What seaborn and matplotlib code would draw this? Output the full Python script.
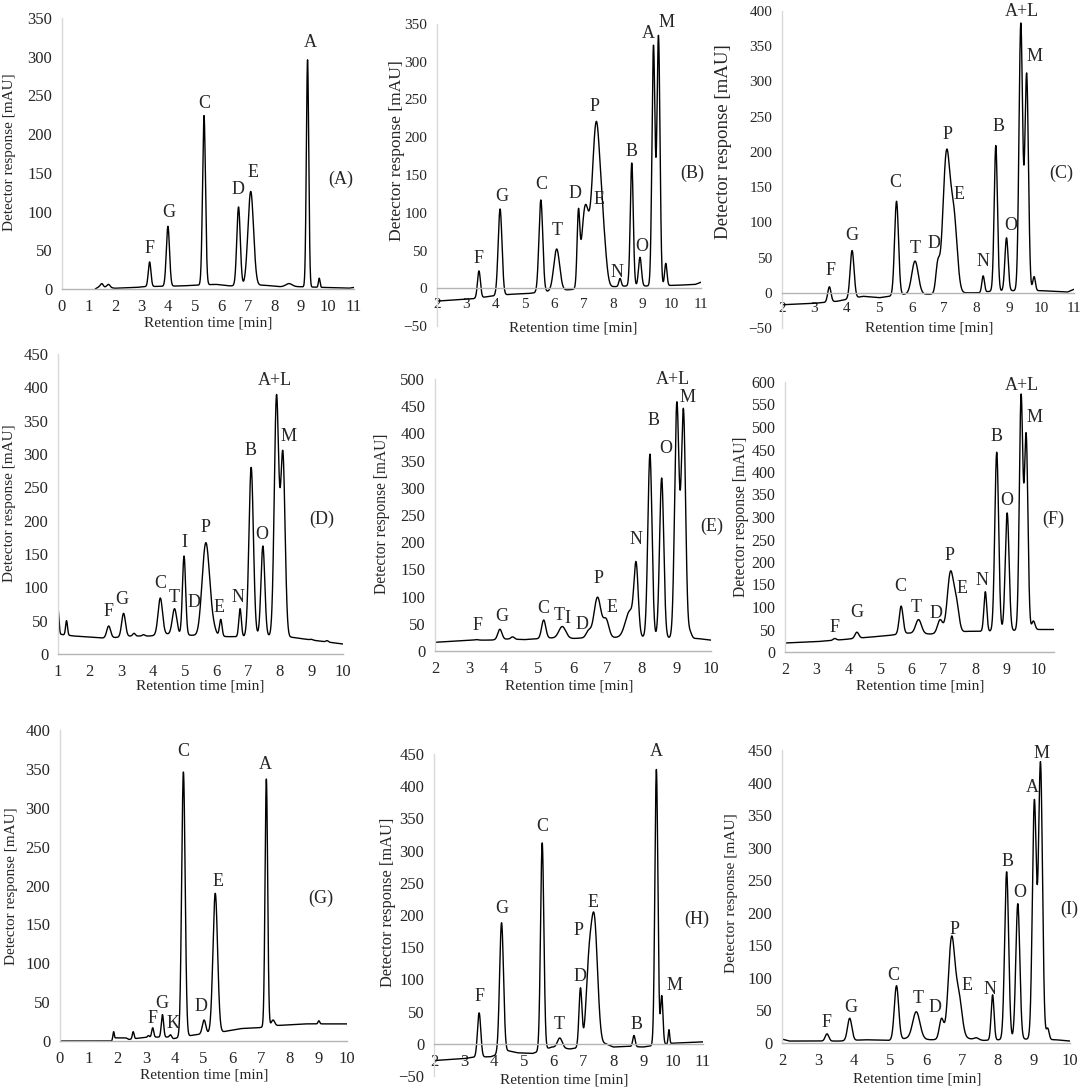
import numpy as np
import pandas as pd
import matplotlib
matplotlib.use("Agg")
import matplotlib.pyplot as plt
import seaborn as sns

sns.set_style("white")
plt.rcParams['font.family'] = ['Liberation Serif', 'DejaVu Serif']

# ---- (A) ----
a_bl_t = [1.25, 1.4, 2.0, 2.8, 3.05, 4.5, 5.8, 6.3, 7.6, 8.2, 8.9, 9.9, 10.8, 11.0]
a_bl_y = [0, 3, 1, 2, 3, 4, 6, 4, 5, 3, 3, 2, 1, 2]
a_pk_t = [1.5, 1.75, 3.3, 3.99, 5.35, 6.65, 7.11, 8.55, 9.25, 9.69]
a_pk_h = [7, 6, 35, 81, 224, 106, 126, 7, 296, 14]
a_pk_w = [0.05, 0.06, 0.05, 0.06, 0.055, 0.065, 0.105, 0.12, 0.045, 0.03]
a_lb = ['F', 'G', 'C', 'D', 'E', 'A', '(A)']
a_lb_x = [3.3, 4.02, 5.35, 6.63, 7.21, 9.34, 10.5]
a_lb_y = [52, 99, 239, 129, 150, 318, 141]

# ---- (B) ----
b_bl_t = [2, 3.2, 3.75, 4.5, 5.1, 5.85, 6.5, 8.0, 8.45, 9.15, 10.2, 10.8, 11.0]
b_bl_y = [-17, -14, -11, -8, -7, -4, -2, 2, 3, 3, 4, 5, 8]
b_pk_t = [3.43, 4.15, 5.54, 6.08, 6.82, 7.05, 7.43, 7.68, 8.24, 8.64, 8.92, 9.38, 9.55, 9.8]
b_pk_h = [23, 105, 117, 52, 105, 110, 221, 90, 13, 166, 41, 322, 335, 33]
b_pk_w = [0.05, 0.065, 0.065, 0.1, 0.045, 0.12, 0.14, 0.1, 0.04, 0.05, 0.05, 0.052, 0.052, 0.04]
b_lb = ['F', 'G', 'C', 'T', 'D', 'P', 'E', 'N', 'B', 'O', 'A', 'M', '(B)']
b_lb_x = [3.43, 4.2, 5.56, 6.1, 6.7, 7.36, 7.53, 8.15, 8.64, 8.98, 9.21, 9.81, 10.69]
b_lb_y = [40, 121, 137, 77, 126, 241, 117, 21, 181, 55, 338, 352, 152]

# ---- (C) ----
c_bl_t = [2, 3, 3.7, 4.5, 5.0, 5.8, 6.5, 7.7, 8.1, 8.4, 9.1, 10, 10.8, 11]
c_bl_y = [-17, -15, -12, -5, -7, -2, -2, 0, 0, 2, 3, 3, 1, 5]
c_pk_t = [3.46, 4.16, 5.53, 6.1, 6.8, 7.07, 7.3, 8.2, 8.59, 8.92, 9.36, 9.54, 9.77]
c_pk_h = [8.5, 60, 130, 45, 47, 203, 122, 24, 209, 78, 383, 312, 23]
c_pk_w = [0.05, 0.06, 0.06, 0.1, 0.06, 0.11, 0.1, 0.04, 0.05, 0.05, 0.055, 0.055, 0.04]
c_lb = ['F', 'G', 'C', 'T', 'D', 'P', 'E', 'N', 'B', 'O', 'A+L', 'M', '(C)']
c_lb_x = [3.49, 4.14, 5.5, 6.1, 6.68, 7.09, 7.45, 8.2, 8.67, 9.04, 9.38, 9.79, 10.6]
c_lb_y = [32, 82, 157, 63, 70, 225, 139, 45, 236, 96, 399, 336, 169]

# ---- (D) ----
d_bl_t = [1.0, 1.5, 2.4, 2.9, 3.3, 3.9, 4.45, 5.25, 6.4, 6.9, 7.3, 8.4, 9.0, 10.0]
d_bl_y = [30, 27, 24, 25, 27, 27, 30, 28, 26, 26, 28, 25, 21, 15]
d_pk_t = [1.0, 1.27, 2.6, 3.07, 3.4, 3.7, 4.23, 4.68, 4.98, 5.45, 5.67, 5.92, 6.14,
          6.75, 7.1, 7.47, 7.9, 8.1, 9.0, 9.5]
d_pk_h = [68, 50, 42, 61, 31, 29, 84, 68, 147, 50, 167, 50, 52,
          68, 280, 162, 389, 305, 22, 20]
d_pk_w = [0.03, 0.03, 0.06, 0.06, 0.04, 0.04, 0.07, 0.07, 0.05, 0.08, 0.12, 0.08, 0.04,
          0.04, 0.07, 0.06, 0.07, 0.07, 0.04, 0.04]
d_lb = ['F', 'G', 'C', 'T', 'I', 'D', 'P', 'E', 'N', 'B', 'O', 'A+L', 'M', '(D)']
d_lb_x = [2.6, 3.0, 4.23, 4.68, 4.98, 5.29, 5.67, 6.1, 6.68, 7.08, 7.45, 7.85, 8.29, 9.34]
d_lb_y = [64, 81, 105, 85, 167, 77, 190, 69, 85, 305, 179, 410, 326, 202]

# ---- (E) ----
e_bl_t = [2, 3, 3.6, 4.1, 4.6, 5.35, 6.0, 6.3, 7.35, 8.1, 9.6, 10]
e_bl_y = [16, 20, 20, 22, 21, 24, 23, 24, 25, 25, 23, 20]
e_pk_t = [3.2, 3.88, 4.25, 5.15, 5.69, 6.45, 6.71, 6.96, 7.65, 7.83, 8.23, 8.57, 9.01, 9.2, 9.39]
e_pk_h = [21, 40, 26, 57, 45, 39, 99, 60, 75, 164, 362, 318, 458, 446, 39]
e_pk_w = [0.05, 0.06, 0.05, 0.06, 0.1, 0.07, 0.1, 0.08, 0.13, 0.06, 0.06, 0.06, 0.063, 0.063, 0.05]
e_lb = ['F', 'G', 'C', 'T', 'I', 'D', 'P', 'E', 'N', 'B', 'O', 'A+L', 'M', '(E)']
e_lb_x = [3.23, 3.93, 5.13, 5.61, 5.85, 6.26, 6.75, 7.14, 7.83, 8.33, 8.68, 8.89, 9.32, 10.03]
e_lb_y = [46, 64, 78, 66, 60, 48, 133, 80, 205, 423, 373, 499, 466, 229]

# ---- (F) ----
f_bl_t = [2, 3, 3.9, 4.5, 5.0, 5.3, 5.9, 6.6, 7.8, 8.45, 9.3, 10.0, 10.5]
f_bl_y = [20, 23, 28, 32, 35, 37, 42, 40, 46, 46, 48, 50, 50]
f_pk_t = [3.57, 4.27, 5.67, 6.22, 6.9, 7.23, 7.42, 8.33, 8.69, 9.02, 9.46, 9.62, 9.85]
f_pk_h = [30, 44, 102, 72, 72, 180, 121, 134, 444, 309, 573, 487, 69]
f_pk_w = [0.05, 0.06, 0.06, 0.09, 0.08, 0.1, 0.08, 0.045, 0.06, 0.06, 0.055, 0.055, 0.05]
f_lb = ['F', 'G', 'C', 'T', 'D', 'P', 'E', 'N', 'B', 'O', 'A+L', 'M', '(F)']
f_lb_x = [3.57, 4.27, 5.64, 6.16, 6.78, 7.21, 7.6, 8.23, 8.69, 9.0, 9.5, 9.87, 10.47]
f_lb_y = [55, 87, 146, 100, 85, 215, 142, 158, 479, 336, 593, 522, 294]

# ---- (G) ----
g_bl_t = [0, 1.8, 1.84, 2.3, 2.4, 2.8, 3.1, 3.75, 3.95, 4.7, 5.7, 6.3, 6.9, 7.6, 8.5, 10]
g_bl_y = [0, 0, 4, 4, 2, 4, 5, 5, 3, 8, 12, 16, 17, 20, 22, 22]
g_pk_t = [1.87, 2.55, 3.08, 3.23, 3.57, 3.85, 4.3, 5.02, 5.41, 7.19, 7.42, 9.02]
g_pk_h = [12, 12, 7, 17, 34, 8, 346, 27, 190, 337, 27, 26]
g_pk_w = [0.02, 0.03, 0.03, 0.035, 0.04, 0.04, 0.06, 0.06, 0.08, 0.045, 0.06, 0.03]
g_lb = ['F', 'G', 'K', 'C', 'D', 'E', 'A', '(G)']
g_lb_x = [3.23, 3.55, 3.93, 4.28, 4.9, 5.52, 7.17, 9.09]
g_lb_y = [29, 48, 23, 372, 45, 205, 355, 183]

# ---- (H) ----
h_bl_t = [2, 3, 3.3, 3.9, 4.5, 4.8, 5.3, 5.95, 6.55, 7.75, 8.0, 8.5, 9.0, 9.3, 10.0, 11]
h_bl_y = [-26, -23, -21, -20, -11, -14, -15, -5, -8, 0, -5, -4, -5, -3, 1, 3]
h_pk_t = [3.51, 4.26, 5.62, 6.21, 6.9, 7.17, 7.36, 8.69, 9.44, 9.62, 9.86]
h_pk_h = [48, 188, 312, 9, 87, 140, 202, 13, 426, 75, 22]
h_pk_w = [0.055, 0.065, 0.055, 0.08, 0.05, 0.09, 0.11, 0.04, 0.05, 0.04, 0.025]
h_lb = ['F', 'G', 'C', 'T', 'D', 'P', 'E', 'B', 'A', 'M', '(H)']
h_lb_x = [3.51, 4.26, 5.63, 6.19, 6.88, 6.82, 7.32, 8.77, 9.44, 10.05, 10.78]
h_lb_y = [74, 210, 337, 30, 105, 176, 220, 30, 454, 91, 193]

# ---- (I) ----
i_bl_t = [2, 2.2, 3, 3.6, 4.3, 5.0, 5.45, 6.15, 7.15, 7.6, 8.05, 8.75, 9.6, 10]
i_bl_y = [6, 3, 3, 3, 5, 4, 7, 5, 7, 4, 5, 6, 5, 3]
i_pk_t = [3.25, 3.88, 5.18, 5.73, 6.43, 6.71, 6.91, 7.4, 7.85, 8.24, 8.55, 9.01, 9.18, 9.38]
i_pk_h = [14, 38, 88, 48, 38, 164, 82, 8, 74, 263, 214, 374, 432, 23]
i_pk_w = [0.05, 0.06, 0.06, 0.1, 0.06, 0.09, 0.09, 0.06, 0.04, 0.055, 0.055, 0.055, 0.055, 0.04]
i_lb = ['F', 'G', 'C', 'T', 'D', 'P', 'E', 'N', 'B', 'O', 'A', 'M', '(I)']
i_lb_x = [3.25, 3.9, 5.1, 5.77, 6.26, 6.79, 7.13, 7.79, 8.27, 8.6, 8.95, 9.2, 9.97]
i_lb_y = [32, 54, 103, 69, 54, 175, 89, 82, 279, 231, 393, 445, 205]

W, H = 1084, 1092

# panel: data, xlim, ylim, plot box in px (left, right, top, bottom),
# ylabel centre px, xlabel centre px, ylabel font size, tick font size
panels = [
    (a_bl_t, a_bl_y, a_pk_t, a_pk_h, a_pk_w, a_lb, a_lb_x, a_lb_y,
     (0, 11), (0, 350), (62, 354, 18, 289), (10, 152), (208, 323), 11, 12),
    (b_bl_t, b_bl_y, b_pk_t, b_pk_h, b_pk_w, b_lb, b_lb_x, b_lb_y,
     (2, 11), (-50, 350), (437, 701, 24, 326), (397, 151), (573, 328), 12.6, 11),
    (c_bl_t, c_bl_y, c_pk_t, c_pk_h, c_pk_w, c_lb, c_lb_x, c_lb_y,
     (2, 11), (-50, 400), (782, 1074, 11, 328), (724, 142), (929, 328), 13.6, 11),
    (d_bl_t, d_bl_y, d_pk_t, d_pk_h, d_pk_w, d_lb, d_lb_x, d_lb_y,
     (1, 10), (0, 450), (58, 343, 354, 654), (10, 503), (200, 686), 11, 12),
    (e_bl_t, e_bl_y, e_pk_t, e_pk_h, e_pk_w, e_lb, e_lb_x, e_lb_y,
     (2, 10), (0, 500), (435, 711, 379, 651), (382, 514), (569, 686), 11.2, 12),
    (f_bl_t, f_bl_y, f_pk_t, f_pk_h, f_pk_w, f_lb, f_lb_x, f_lb_y,
     (2, 10.5), (0, 600), (785, 1054, 382, 652), (741, 517), (920, 686), 11.2, 11.5),
    (g_bl_t, g_bl_y, g_pk_t, g_pk_h, g_pk_w, g_lb, g_lb_x, g_lb_y,
     (0, 10), (0, 400), (60, 347, 730, 1041), (12, 886), (204, 1075), 11, 12),
    (h_bl_t, h_bl_y, h_pk_t, h_pk_h, h_pk_w, h_lb, h_lb_x, h_lb_y,
     (2, 11), (-50, 450), (434, 703, 754, 1076), (388, 902), (564, 1080), 11.8, 12),
    (i_bl_t, i_bl_y, i_pk_t, i_pk_h, i_pk_w, i_lb, i_lb_x, i_lb_y,
     (2, 10), (0, 450), (782, 1070, 750, 1043), (732, 893), (917, 1079), 11.1, 12),
]


def chromatogram(t0, t1, bl_t, bl_y, pk_t, pk_h, pk_w):
    t = np.linspace(t0, t1, 3000)
    pt = np.asarray(pk_t, float)
    pw = np.asarray(pk_w, float)
    # amplitudes so that the trace passes through the read apex values
    g = np.exp(-0.5 * ((pt[:, None] - pt[None, :]) / pw[None, :]) ** 2)
    amp = np.linalg.solve(g, np.asarray(pk_h, float) - np.interp(pt, bl_t, bl_y))
    y = np.interp(t, bl_t, bl_y) + (amp[None, :] * np.exp(
        -0.5 * ((t[:, None] - pt[None, :]) / pw[None, :]) ** 2)).sum(axis=1)
    return pd.DataFrame({'time': t, 'response': y})


fig = plt.figure(figsize=(W / 100, H / 100), dpi=100)

for (bl_t, bl_y, pk_t, pk_h, pk_w, lb, lb_x, lb_y,
     xl, yl, box, ylab_pos, xlab_pos, ylab_fs, tick_fs) in panels:
    left, right, top, bottom = box
    ax = fig.add_axes([left / W, 1 - bottom / H, (right - left) / W, (bottom - top) / H])
    df = chromatogram(bl_t[0], bl_t[-1], bl_t, bl_y, pk_t, pk_h, pk_w)
    sns.lineplot(data=df, x='time', y='response', ax=ax, color='black',
                 linewidth=1.0, estimator=None, sort=False)
    for s, x, y in zip(lb, lb_x, lb_y):
        ax.text(x, y, s, ha='center', va='center', fontsize=13, clip_on=False)

    ax.set_xlim(*xl)
    ax.set_ylim(*yl)
    ax.set_xticks(np.arange(xl[0], int(xl[1]) + 1, 1))
    ax.set_yticks(np.arange(yl[0], yl[1] + 1, 50))
    ax.tick_params(axis='both', length=0, labelsize=tick_fs)
    ax.tick_params(axis='y', pad=7)
    ax.tick_params(axis='x', pad=7)
    sns.despine(ax=ax, top=True, right=True)
    ax.spines['bottom'].set_position(('data', 0))
    ax.spines['bottom'].set_color('#b4b4b4')
    ax.spines['bottom'].set_linewidth(1.0)
    ax.spines['left'].set_color('#d9d9d9')
    ax.spines['left'].set_linewidth(1.0)

    ax.set_xlabel('Retention time [min]', fontsize=11)
    ax.set_ylabel('Detector response [mAU]', fontsize=ylab_fs)
    ax.xaxis.set_label_coords(xlab_pos[0] / W, 1 - xlab_pos[1] / H, transform=fig.transFigure)
    ax.yaxis.set_label_coords(ylab_pos[0] / W, 1 - ylab_pos[1] / H, transform=fig.transFigure)
    ax.xaxis.label.set_va('center')
    ax.yaxis.label.set_va('center')

fig.savefig('out.png', dpi=100)
